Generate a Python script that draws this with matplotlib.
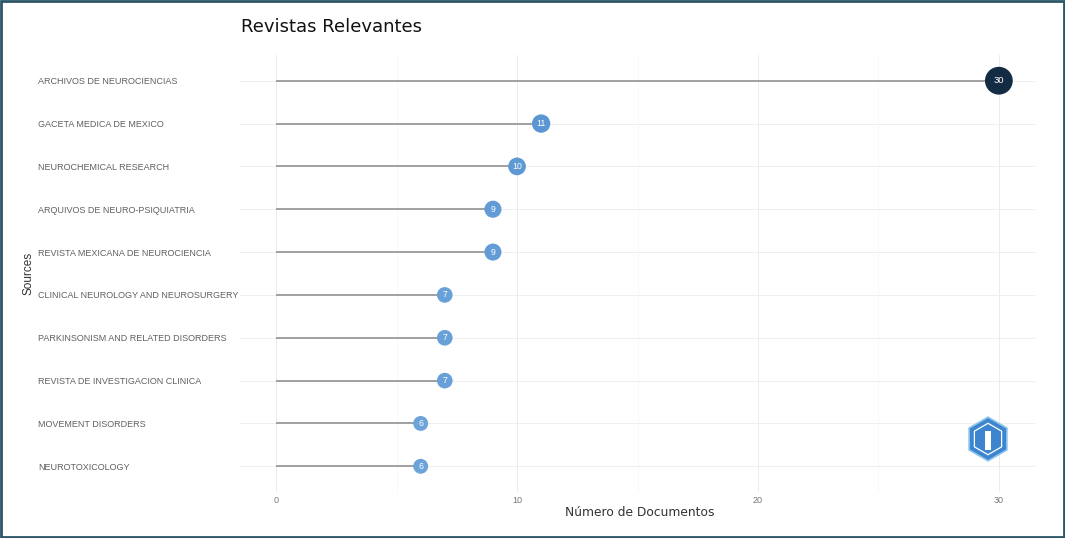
import numpy as np
import matplotlib
matplotlib.use("Agg")
from matplotlib import pyplot as plt
from matplotlib.colors import LinearSegmentedColormap, Normalize
from matplotlib.patches import Rectangle, RegularPolygon

# data, top to bottom as in the picture
sources = [
    "ARCHIVOS DE NEUROCIENCIAS",
    "GACETA MEDICA DE MEXICO",
    "NEUROCHEMICAL RESEARCH",
    "ARQUIVOS DE NEURO-PSIQUIATRIA",
    "REVISTA MEXICANA DE NEUROCIENCIA",
    "CLINICAL NEUROLOGY AND NEUROSURGERY",
    "PARKINSONISM AND RELATED DISORDERS",
    "REVISTA DE INVESTIGACION CLINICA",
    "MOVEMENT DISORDERS",
    "NEUROTOXICOLOGY",
]
documents = [30, 11, 10, 9, 9, 7, 7, 7, 6, 6]
x_ticks = [0, 10, 20, 30]

W, H = 1065, 538
fig = plt.figure(figsize=(W / 100, H / 100), dpi=100)
fig.patch.set_facecolor("white")

# panel position in pixels
left, right, top, bottom = 240, 1035, 55, 492
ax = fig.add_axes([left / W, 1 - bottom / H, (right - left) / W, (bottom - top) / H])

n = len(sources)
ypos = np.arange(n)[::-1]
vals = np.array(documents)

cmap = LinearSegmentedColormap.from_list("docs", ["#6BA3DA", "#4784C6", "#132B43"])
norm = Normalize(vmin=vals.min(), vmax=vals.max())
colors = cmap(norm(vals))
sizes = 43.75 + 11.875 * vals

# grid
for xv in [5, 15, 25]:
    ax.axvline(xv, color="#f5f5f5", lw=0.5, zorder=0)
for xv in x_ticks:
    ax.axvline(xv, color="#ebebeb", lw=0.7, zorder=0)
for yv in ypos:
    ax.axhline(yv, color="#efefef", lw=0.7, zorder=0)

ax.hlines(ypos, 0, vals, color="#a0a0a0", lw=1.4, zorder=1)
ax.scatter(vals, ypos, s=sizes, c=colors, edgecolors="none", zorder=2)
for v, y in zip(vals, ypos):
    ax.text(v, y, str(v), color="white", ha="center", va="center",
            fontsize=6.3 if v < 20 else 6.8, family="Liberation Sans", zorder=3)

ax.set_xlim(-1.5, 31.5)
ax.set_ylim(-0.6, n - 0.4)
ax.set_xticks(x_ticks)
ax.set_yticks(ypos)
ax.set_yticklabels(sources, family="Liberation Sans", fontsize=6.5, color="#606060")
ax.set_xticklabels([str(t) for t in x_ticks], family="Liberation Sans",
                   fontsize=6.5, color="#777777")
for lab in ax.get_yticklabels():
    lab.set_horizontalalignment("left")
ax.tick_params(axis="y", length=0, pad=(left - 38) * 0.72)
ax.tick_params(axis="x", length=0, pad=3)
for sp in ax.spines.values():
    sp.set_visible(False)

ax.set_ylabel("Sources", family="Liberation Sans", fontsize=8.5, color="#333333")
ax.yaxis.set_label_coords((34 - left) / (right - left), 0.5)
ax.set_xlabel("Número de Documentos", fontsize=8.8, color="#333333")
ax.xaxis.set_label_coords(0.503, -(506 - bottom) / (bottom - top))
ax.xaxis.label.set_va("top")

fig.text(241 / W, 1 - 27 / H, "Revistas Relevantes", fontsize=13,
         ha="left", va="center", color="#111111")

# small hexagon logo bottom right
lax = fig.add_axes([964 / W, 1 - 464 / H, 48 / W, 50 / H])
lax.set_xlim(-1.1, 1.1)
lax.set_ylim(-1.1, 1.1)
lax.set_aspect("equal")
lax.axis("off")
lax.add_patch(RegularPolygon((0, 0), 6, radius=1.0, orientation=0,
                             facecolor="#3d86cf", edgecolor="#8cc4ec", lw=1.2))
lax.add_patch(RegularPolygon((0, 0), 6, radius=0.72, orientation=0,
                             facecolor="none", edgecolor="white", lw=0.9))
lax.add_patch(Rectangle((-0.12, -0.5), 0.24, 0.85, facecolor="white", edgecolor="none"))

# outer frame
fig.patches.append(Rectangle((0.0012, 0.002), 0.9976, 0.996, transform=fig.transFigure,
                             fill=False, edgecolor="#2b5566", lw=2))

fig.savefig("out.png", dpi=100)
